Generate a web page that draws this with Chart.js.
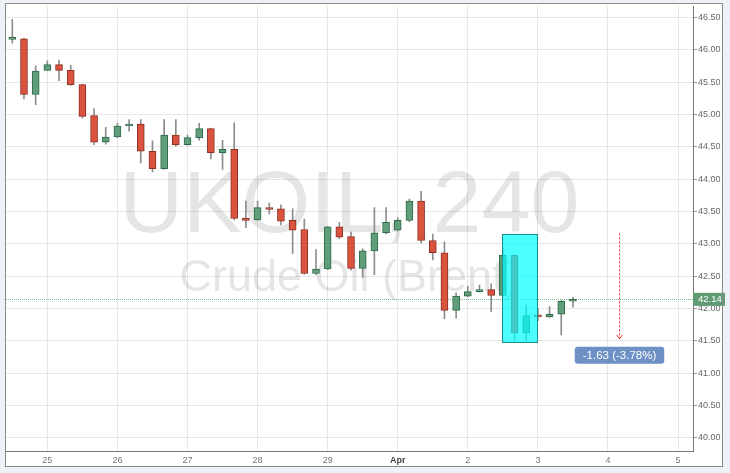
<!DOCTYPE html>
<html>
<head>
<meta charset="utf-8">
<script src="https://cdn.jsdelivr.net/npm/chart.js@4.4.1/dist/chart.umd.min.js"></script>
<style>
  html, body { margin: 0; padding: 0; background: #eef2f6; }
  canvas { display: block; }
</style>
</head>
<body>
<canvas id="ukoil" width="730" height="473"></canvas>
<script>
// UKOIL 240 min candles, 6 per day, first one at 24th 12:00
const dayLabels = ['25', '26', '27', '28', '29', 'Apr', '2', '3', '4', '5']
const opens  = [46.16, 46.17, 45.31, 45.68, 45.77, 45.68, 45.46, 44.98, 44.57, 44.65,
                44.82, 44.85, 44.43, 44.16, 44.68, 44.53, 44.64, 44.78, 44.41, 44.46,
                43.38, 43.37, 43.56, 43.54, 43.36, 43.22, 42.54, 42.61, 43.26, 43.11,
                42.62, 42.89, 43.17, 43.21, 43.36, 43.66, 43.05, 42.86, 41.97, 42.19,
                42.26, 42.29, 42.20, 42.82, 41.62, 41.89, 41.87, 41.91, 42.11]
const highs  = [46.47, 46.18, 45.75, 45.83, 45.84, 45.76, 45.47, 45.09, 44.80, 44.86,
                44.92, 44.92, 44.59, 44.92, 44.92, 44.68, 44.86, 44.79, 44.60, 44.87,
                43.66, 43.66, 43.63, 43.60, 43.54, 43.38, 42.91, 43.27, 43.33, 43.18,
                42.92, 43.56, 43.56, 43.40, 43.69, 43.81, 43.15, 43.03, 42.24, 42.34,
                42.36, 42.38, 42.93, 42.83, 42.05, 42.00, 42.03, 42.12, 42.17]
const lows   = [46.10, 45.24, 45.15, 45.68, 45.52, 45.45, 44.94, 44.53, 44.54, 44.64,
                44.74, 44.25, 44.11, 44.15, 44.51, 44.52, 44.60, 44.31, 44.15, 43.37,
                43.25, 43.36, 43.46, 43.29, 42.85, 42.53, 42.52, 42.60, 43.08, 42.59,
                42.48, 42.52, 43.15, 43.20, 43.34, 43.01, 42.75, 41.84, 41.85, 42.18,
                42.25, 41.95, 42.19, 41.50, 41.50, 41.81, 41.86, 41.59, 42.02]
const closes = [46.18, 45.31, 45.67, 45.77, 45.68, 45.46, 44.97, 44.57, 44.65, 44.82,
                44.85, 44.43, 44.16, 44.68, 44.53, 44.64, 44.78, 44.41, 44.46, 43.39,
                43.36, 43.56, 43.53, 43.35, 43.21, 42.54, 42.61, 43.26, 43.10, 42.62,
                42.89, 43.17, 43.33, 43.36, 43.66, 43.05, 42.86, 41.97, 42.19, 42.26,
                42.29, 42.20, 42.82, 41.62, 41.89, 41.87, 41.91, 42.11, 42.14]
const priceTicks = [40.00, 40.50, 41.00, 41.50, 42.00, 42.50, 43.00, 43.50, 44.00, 44.50, 45.00, 45.50, 46.00, 46.50]
const lastPrice = 42.14

// drawn objects on the chart (candle index / price)
const highlightBox = {x0: 41.95, x1: 44.98, top: 43.15, bottom: 41.48}
const measureArrow = {x: 51.94, from: 43.16, to: 41.53, text: '-1.63 (-3.78%)'}

const FONT = '"Liberation Sans", Arial, sans-serif'
const upFill = '#5f9e78', upLine = '#2f6a4b'
const downFill = '#d9533f', downLine = '#8e2e22'

const isUp = opens.map((o, i) => closes[i] >= o)

function roundRect(c, x, y, w, h, r) {
  c.beginPath()
  c.moveTo(x + r, y)
  c.arcTo(x + w, y, x + w, y + h, r)
  c.arcTo(x + w, y + h, x, y + h, r)
  c.arcTo(x, y + h, x, y, r)
  c.arcTo(x, y, x + w, y, r)
  c.closePath()
}

const decor = {
  id: 'decor',
  beforeDraw(chart) {
    const c = chart.ctx
    c.save()
    c.fillStyle = '#eef2f6'
    c.fillRect(0, 0, chart.width, chart.height)
    c.fillStyle = '#ffffff'
    c.fillRect(5, 3, 718, 464)
    c.restore()
  },
  beforeDatasetsDraw(chart) {
    const {ctx: c, chartArea: a, scales: {x, y}} = chart
    c.save()
    c.beginPath()
    c.rect(a.left, a.top, a.right - a.left, a.bottom - a.top)
    c.clip()
    // watermark
    const cx = (a.left + a.right) / 2
    c.fillStyle = 'rgba(0,0,0,0.1)'
    c.textAlign = 'center'
    c.textBaseline = 'alphabetic'
    c.font = '88px ' + FONT
    c.fillText('UKOIL, 240', cx, a.top + 226)
    c.font = '45px ' + FONT
    c.fillText('Crude Oil (Brent)', cx, a.top + 285)
    // last price line
    const py = Math.round(y.getPixelForValue(lastPrice)) + 0.5
    c.strokeStyle = '#6fbf85'
    c.lineWidth = 1
    c.setLineDash([1, 1])
    c.beginPath()
    c.moveTo(a.left, py)
    c.lineTo(a.right, py)
    c.stroke()
    c.restore()
  },
  afterDatasetsDraw(chart) {
    const {ctx: c, scales: {x, y}} = chart
    c.save()
    // highlight rectangle
    const bx0 = x.getPixelForValue(highlightBox.x0), bx1 = x.getPixelForValue(highlightBox.x1)
    const by0 = y.getPixelForValue(highlightBox.top), by1 = y.getPixelForValue(highlightBox.bottom)
    c.fillStyle = 'rgba(0,255,255,0.7)'
    c.fillRect(bx0, by0, bx1 - bx0, by1 - by0)
    c.strokeStyle = '#1b8c8c'
    c.lineWidth = 1
    c.strokeRect(Math.round(bx0) + 0.5, Math.round(by0) + 0.5, Math.round(bx1 - bx0), Math.round(by1 - by0))
    // measure arrow
    const ax = Math.round(x.getPixelForValue(measureArrow.x)) + 0.5
    const ay0 = y.getPixelForValue(measureArrow.from), ay1 = y.getPixelForValue(measureArrow.to)
    c.strokeStyle = '#ff3030'
    c.setLineDash([2, 2])
    c.beginPath()
    c.moveTo(ax, ay0)
    c.lineTo(ax, ay1)
    c.stroke()
    c.setLineDash([])
    c.beginPath()
    c.moveTo(ax - 3, ay1 - 4)
    c.lineTo(ax, ay1)
    c.lineTo(ax + 3, ay1 - 4)
    c.stroke()
    // measure label
    c.font = '11.5px ' + FONT
    const tw = c.measureText(measureArrow.text).width
    const lw = tw + 16, lh = 17, ly = ay1 + 8
    c.fillStyle = '#6d90c5'
    roundRect(c, ax - lw / 2, ly, lw, lh, 3)
    c.fill()
    c.fillStyle = '#ffffff'
    c.textAlign = 'center'
    c.textBaseline = 'middle'
    c.fillText(measureArrow.text, ax, ly + lh / 2 + 0.5)
    c.restore()
  },
  afterDraw(chart) {
    const {ctx: c, chartArea: a, scales: {y}} = chart
    c.save()
    // last price tag on the axis
    const py = y.getPixelForValue(lastPrice)
    c.fillStyle = '#5f9c73'
    c.fillRect(a.right, py - 6.5, 32, 13)
    c.fillStyle = '#ffffff'
    c.font = '9.5px ' + FONT
    c.textAlign = 'left'
    c.textBaseline = 'middle'
    c.fillText(lastPrice.toFixed(2), a.right + 5, py + 0.5)
    // outer frame
    c.strokeStyle = '#8a8a8a'
    c.lineWidth = 1
    c.strokeRect(5.5, 3.5, 717, 463)
    c.restore()
  }
}

const ctx = document.getElementById('ukoil').getContext('2d')
const chart = new Chart(ctx, {
  type: 'bar',
  data: {
    datasets: [
      {
        label: 'wick',
        data: highs.map((h, i) => ({x: i, y: [lows[i], h]})),
        backgroundColor: '#8d8d8d',
        barThickness: 1,
        grouped: false,
        order: 2
      },
      {
        label: 'body',
        data: opens.map((o, i) => ({x: i, y: [o, closes[i]]})),
        backgroundColor: isUp.map(u => u ? upFill : downFill),
        borderColor: isUp.map(u => u ? upLine : downLine),
        borderWidth: 1,
        borderSkipped: false,
        barThickness: 7,
        minBarLength: 2,
        grouped: false,
        order: 1
      }
    ]
  },
  options: {
    responsive: false,
    devicePixelRatio: 1,
    animation: false,
    layout: {padding: {left: 6, top: 4, right: 7, bottom: 6}},
    plugins: {legend: {display: false}, tooltip: {enabled: false}},
    scales: {
      x: {
        type: 'linear',
        min: -0.54,
        max: 58.28,
        offset: false,
        afterBuildTicks: s => { s.ticks = dayLabels.map((d, k) => ({value: 3 + 6 * k})) },
        afterFit: s => { s.height = 16 },
        grid: {color: '#e6e6e6', offset: false, drawTicks: false},
        border: {color: '#7a7a7a'},
        ticks: {
          autoSkip: false,
          maxRotation: 0,
          padding: 4,
          color: c => dayLabels[c.index] === 'Apr' ? '#444' : '#777',
          font: c => ({size: 9, family: FONT, weight: dayLabels[c.index] === 'Apr' ? 'bold' : 'normal'}),
          callback: (v, i) => dayLabels[i]
        }
      },
      y: {
        type: 'linear',
        position: 'right',
        min: 39.795,
        max: 46.67,
        afterBuildTicks: s => { s.ticks = priceTicks.map(v => ({value: v})) },
        afterFit: s => { s.width = 30 },
        grid: {color: '#e6e6e6', tickColor: '#999', tickLength: 4},
        border: {color: '#7a7a7a'},
        ticks: {
          padding: 1,
          color: '#666',
          font: {size: 9, family: FONT},
          callback: v => Number(v).toFixed(2)
        }
      }
    }
  },
  plugins: [decor]
})
</script>
</body>
</html>
